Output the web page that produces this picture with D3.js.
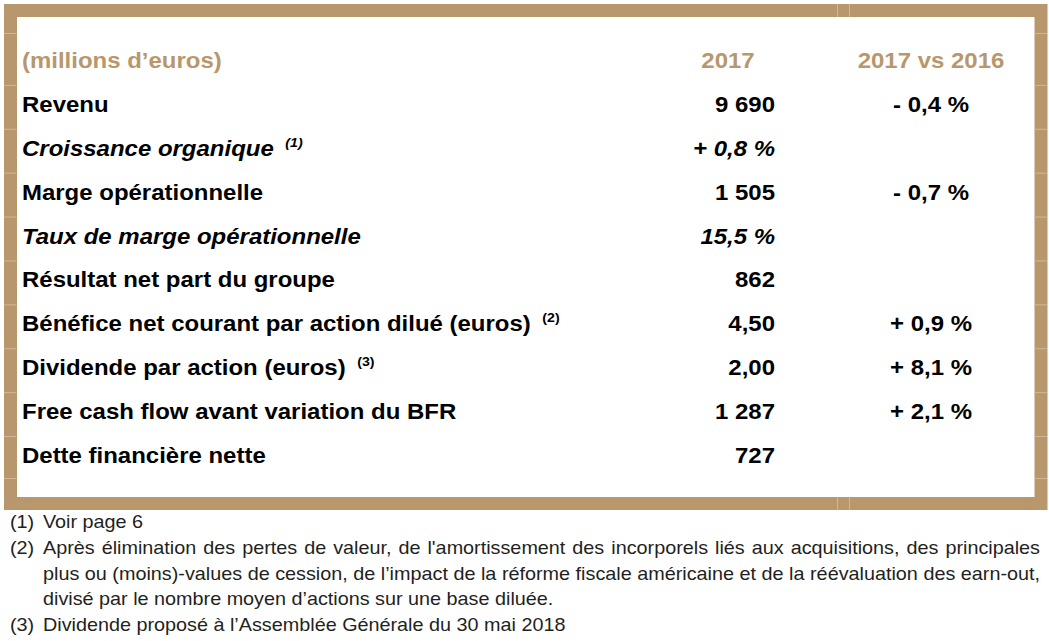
<!DOCTYPE html>
<html><head><meta charset="utf-8">
<script src="https://cdn.jsdelivr.net/npm/d3@7"></script>
<style>html,body{margin:0;padding:0;background:#fff}svg{display:block}</style>
</head><body>
<svg id="c" width="1049" height="641"></svg>
<script>
// ---- data ----
const headers = ["(millions d’euros)", "2017", "2017 vs 2016"];
const labels = [
  "Revenu",
  "Croissance organique",
  "Marge opérationnelle",
  "Taux de marge opérationnelle",
  "Résultat net part du groupe",
  "Bénéfice net courant par action dilué (euros)",
  "Dividende par action (euros)",
  "Free cash flow avant variation du BFR",
  "Dette financière nette"
];
const labelNotes = [null, 1, null, null, null, 2, 3, null, null];
const italicRows = [false, true, false, true, false, false, false, false, false];
const values2017 = [9690, 0.8, 1505, 15.5, 862, 4.50, 2.00, 1287, 727];
const valueKinds = ["int", "signedPct", "int", "pct", "int", "dec2", "dec2", "int", "int"];
const change2017vs2016 = [-0.4, null, -0.7, null, null, 0.9, 8.1, 2.1, null];
const footnoteMarks = ["(1)", "(2)", "(3)"];
const footnoteLines = [
  {mark: "(1)", text: "Voir page 6", justify: false},
  {mark: "(2)", text: "Après élimination des pertes de valeur, de l'amortissement des incorporels liés aux acquisitions, des principales", justify: true},
  {mark: "", text: "plus ou (moins)-values de cession, de l’impact de la réforme fiscale américaine et de la réévaluation des earn-out,", justify: true},
  {mark: "", text: "divisé par le nombre moyen d’actions sur une base diluée.", justify: false},
  {mark: "(3)", text: "Dividende proposé à l’Assemblée Générale du 30 mai 2018", justify: false}
];

// ---- formatting ----
const fr = d3.formatLocale({decimal: ",", thousands: "\u00a0", grouping: [3], currency: ["", " €"]});
const fInt = fr.format(",d"), f1 = fr.format(".1f"), f2 = fr.format(".2f");
function fmtValue(v, kind) {
  if (kind === "int") return fInt(v);
  if (kind === "dec2") return f2(v);
  if (kind === "pct") return f1(v) + "\u00a0%";
  if (kind === "signedPct") return (v < 0 ? "-\u00a0" : "+\u00a0") + f1(Math.abs(v)) + "\u00a0%";
  return String(v);
}
function fmtChange(v) {
  if (v == null) return "";
  return (v < 0 ? "-\u00a0" : "+\u00a0") + f1(Math.abs(v)) + "\u00a0%";
}

// ---- layout ----
const FONT = "'Liberation Sans', Arial, Helvetica, sans-serif";
const TAN = "#b8976c";
const SX = 1.09;       // horizontal stretch of table text
const SXF = 1.10;      // horizontal stretch of footnote text
const svg = d3.select("#c");

const y = d3.scaleLinear().domain([0, labels.length]).range([68, 463]); // 0 = header row
const colLabelX = 22, colValX = 775, colHead2017X = 728, colChgX = 931;

// border
svg.append("rect")
  .attr("x", 10.5).attr("y", 10.5).attr("width", 1030.5).attr("height", 493)
  .attr("fill", "#fff").attr("stroke", TAN).attr("stroke-width", 13);

// faint cell-boundary lines inside the border
const boundaryYs = [33].concat(d3.range(1, labels.length + 1).map(i => y(i) - 27)).concat([478]);
const thin = svg.append("g").attr("stroke", "#cfb899").attr("stroke-width", 1);
boundaryYs.forEach(by => {
  thin.append("line").attr("x1", 4).attr("x2", 16.5).attr("y1", by + 0.5).attr("y2", by + 0.5);
  thin.append("line").attr("x1", 1034.5).attr("x2", 1047).attr("y1", by + 0.5).attr("y2", by + 0.5);
});
[837, 849].forEach(bx => {
  thin.append("line").attr("x1", bx + 0.5).attr("x2", bx + 0.5).attr("y1", 4).attr("y2", 17);
  thin.append("line").attr("x1", bx + 0.5).attr("x2", bx + 0.5).attr("y1", 497).attr("y2", 510);
});

function stretchedText(parent, x, yy, sx, str, opts) {
  const g = parent.append("g").attr("transform", `translate(${x},${yy}) scale(${sx},1)`);
  const t = g.append("text")
    .attr("font-family", FONT)
    .attr("font-size", opts.size)
    .attr("font-weight", opts.weight || "normal")
    .attr("font-style", opts.style || "normal")
    .attr("fill", opts.fill || "#000")
    .attr("text-anchor", opts.anchor || "start")
    .text(str);
  return t;
}

// header
const head = svg.append("g");
stretchedText(head, colLabelX, y(0), SX, headers[0], {size: 22, weight: "bold", fill: TAN});
stretchedText(head, colHead2017X, y(0), SX, headers[1], {size: 22, weight: "bold", fill: TAN, anchor: "middle"});
stretchedText(head, colChgX, y(0), SX, headers[2], {size: 22, weight: "bold", fill: TAN, anchor: "middle"});

// rows
const rows = svg.append("g").selectAll("g.row").data(labels.map((l, i) => ({
  label: l, note: labelNotes[i], italic: italicRows[i],
  value: values2017[i], kind: valueKinds[i], chg: change2017vs2016[i], i
}))).join("g").attr("class", "row");

rows.each(function(d) {
  const g = d3.select(this);
  const yy = y(d.i + 1);
  const style = d.italic ? "italic" : "normal";
  const t = stretchedText(g, colLabelX, yy, SX, d.label, {size: 22, weight: "bold", style});
  if (d.note != null) {
    t.append("tspan").text("\u00a0");
    t.append("tspan").attr("font-size", 13).attr("dx", 4.5).attr("dy", -9).text(footnoteMarks[d.note - 1]);
  }
  stretchedText(g, colValX, yy, SX, fmtValue(d.value, d.kind), {size: 22, weight: "bold", style, anchor: "end"});
  if (d.chg != null)
    stretchedText(g, colChgX, yy, SX, fmtChange(d.chg), {size: 22, weight: "bold", anchor: "middle"});
});

// footnotes
const fy = d3.scaleLinear().domain([0, footnoteLines.length - 1]).range([528, 631]);
const foot = svg.append("g");
const FCOL = "#231f20", markX = 10, textX = 43, rightX = 1040;
footnoteLines.forEach((ln, i) => {
  const yy = fy(i);
  if (ln.mark) stretchedText(foot, markX, yy, SXF, ln.mark, {size: 18, fill: FCOL});
  if (!ln.justify) {
    stretchedText(foot, textX, yy, SXF, ln.text, {size: 18, fill: FCOL});
  } else {
    const words = ln.text.split(" ");
    const g = foot.append("g").attr("transform", `translate(${textX},${yy}) scale(${SXF},1)`);
    const ts = words.map(w => g.append("text").attr("font-family", FONT).attr("font-size", 18)
      .attr("fill", FCOL).text(w));
    const widths = ts.map(t => t.node().getComputedTextLength());
    const avail = (rightX - textX) / SXF;
    const gap = (avail - d3.sum(widths)) / (words.length - 1);
    let cx = 0;
    ts.forEach((t, j) => { t.attr("x", cx); cx += widths[j] + gap; });
  }
});
</script>
</body></html>
